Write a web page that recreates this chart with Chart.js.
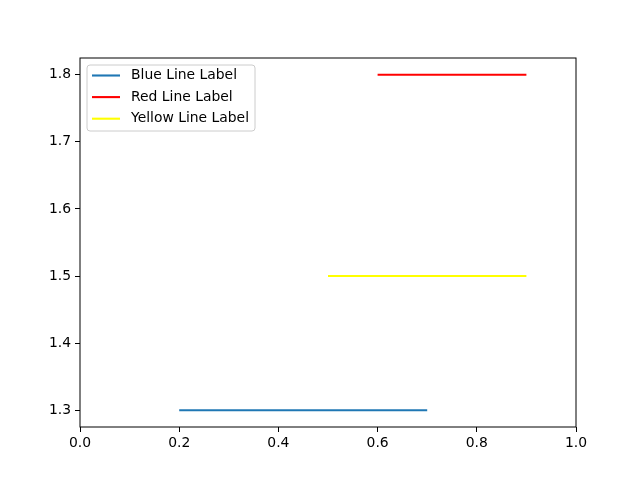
<!DOCTYPE html>
<html>
<head>
<meta charset="utf-8">
<script src="https://cdn.jsdelivr.net/npm/chart.js@4/dist/chart.umd.min.js"></script>
<style>
  html, body { margin: 0; padding: 0; background: #ffffff; }
  #wrap { width: 640px; height: 480px; }
</style>
</head>
<body>
<div id="wrap"><canvas id="lineChart" width="640" height="480"></canvas></div>
<script>
// --- Data ---
const seriesLabels = ["Blue Line Label", "Red Line Label", "Yellow Line Label"];
const seriesColors = ["#1f77b4", "#ff0000", "#ffff00"];
const lineY = [1.3, 1.8, 1.5];      // y level of each horizontal line
const lineXStart = [0.2, 0.6, 0.5]; // left end
const lineXEnd = [0.7, 0.9, 0.9];   // right end
const xTicks = [0.0, 0.2, 0.4, 0.6, 0.8, 1.0];
const yTicks = [1.3, 1.4, 1.5, 1.6, 1.7, 1.8];

const FONT = "'DejaVu Sans', sans-serif";
const FONT_SIZE = 13.9;
const LINE_W = 2.1;

// Axes box + legend drawn inside the plot area (matplotlib style)
const frameAndLegend = {
    id: 'frameAndLegend',
    afterDraw(chart) {
        const ctx = chart.ctx;
        const a = chart.chartArea;
        ctx.save();
        ctx.strokeStyle = '#000000';
        ctx.lineWidth = 1;
        ctx.strokeRect(a.left, a.top, a.right - a.left, a.bottom - a.top);

        // legend box
        const x0 = a.left + 7, y0 = a.top + 7, w = 168, h = 66, r = 3;
        ctx.beginPath();
        ctx.roundRect(x0, y0, w, h, r);
        ctx.fillStyle = 'rgba(255,255,255,0.8)';
        ctx.fill();
        ctx.strokeStyle = '#cccccc';
        ctx.stroke();

        ctx.font = FONT_SIZE + 'px ' + FONT;
        ctx.textBaseline = 'middle';
        chart.data.datasets.forEach((ds, i) => {
            const yy = y0 + 10.5 + i * 21.6;
            ctx.beginPath();
            ctx.moveTo(x0 + 5, yy);
            ctx.lineTo(x0 + 33, yy);
            ctx.strokeStyle = ds.borderColor;
            ctx.lineWidth = LINE_W;
            ctx.stroke();
            ctx.fillStyle = '#000000';
            ctx.fillText(ds.label, x0 + 44, yy);
        });
        ctx.restore();
    }
};

const datasets = seriesLabels.map((label, i) => ({
    label: label,
    data: [{ x: lineXStart[i], y: lineY[i] }, { x: lineXEnd[i], y: lineY[i] }],
    borderColor: seriesColors[i],
    borderWidth: LINE_W,
    borderCapStyle: 'butt',
    pointRadius: 0,
    fill: false,
    tension: 0
}));

new Chart(document.getElementById('lineChart').getContext('2d'), {
    type: 'line',
    data: { datasets: datasets },
    options: {
        responsive: false,
        animation: false,
        layout: { padding: { left: 0, top: 58, right: 64, bottom: 0 } },
        plugins: { legend: { display: false }, tooltip: { enabled: false } },
        scales: {
            x: {
                type: 'linear',
                min: 0,
                max: 1,
                afterBuildTicks: (scale) => { scale.ticks = xTicks.map(v => ({ value: v })); },
                afterFit: (scale) => { scale.height = 53; },
                ticks: {
                    color: '#000000',
                    font: { family: FONT, size: FONT_SIZE },
                    padding: 3,
                    maxRotation: 0,
                    callback: (v) => Number(v).toFixed(1)
                },
                grid: { drawOnChartArea: false, drawTicks: true, tickLength: 5, color: '#000000' },
                border: { display: false }
            },
            y: {
                type: 'linear',
                min: 1.275,
                max: 1.825,
                afterBuildTicks: (scale) => { scale.ticks = yTicks.map(v => ({ value: v })); },
                afterFit: (scale) => { scale.width = 80; },
                ticks: {
                    color: '#000000',
                    font: { family: FONT, size: FONT_SIZE },
                    padding: 4,
                    callback: (v) => Number(v).toFixed(1)
                },
                grid: { drawOnChartArea: false, drawTicks: true, tickLength: 5, color: '#000000' },
                border: { display: false }
            }
        }
    },
    plugins: [frameAndLegend]
});
</script>
</body>
</html>
